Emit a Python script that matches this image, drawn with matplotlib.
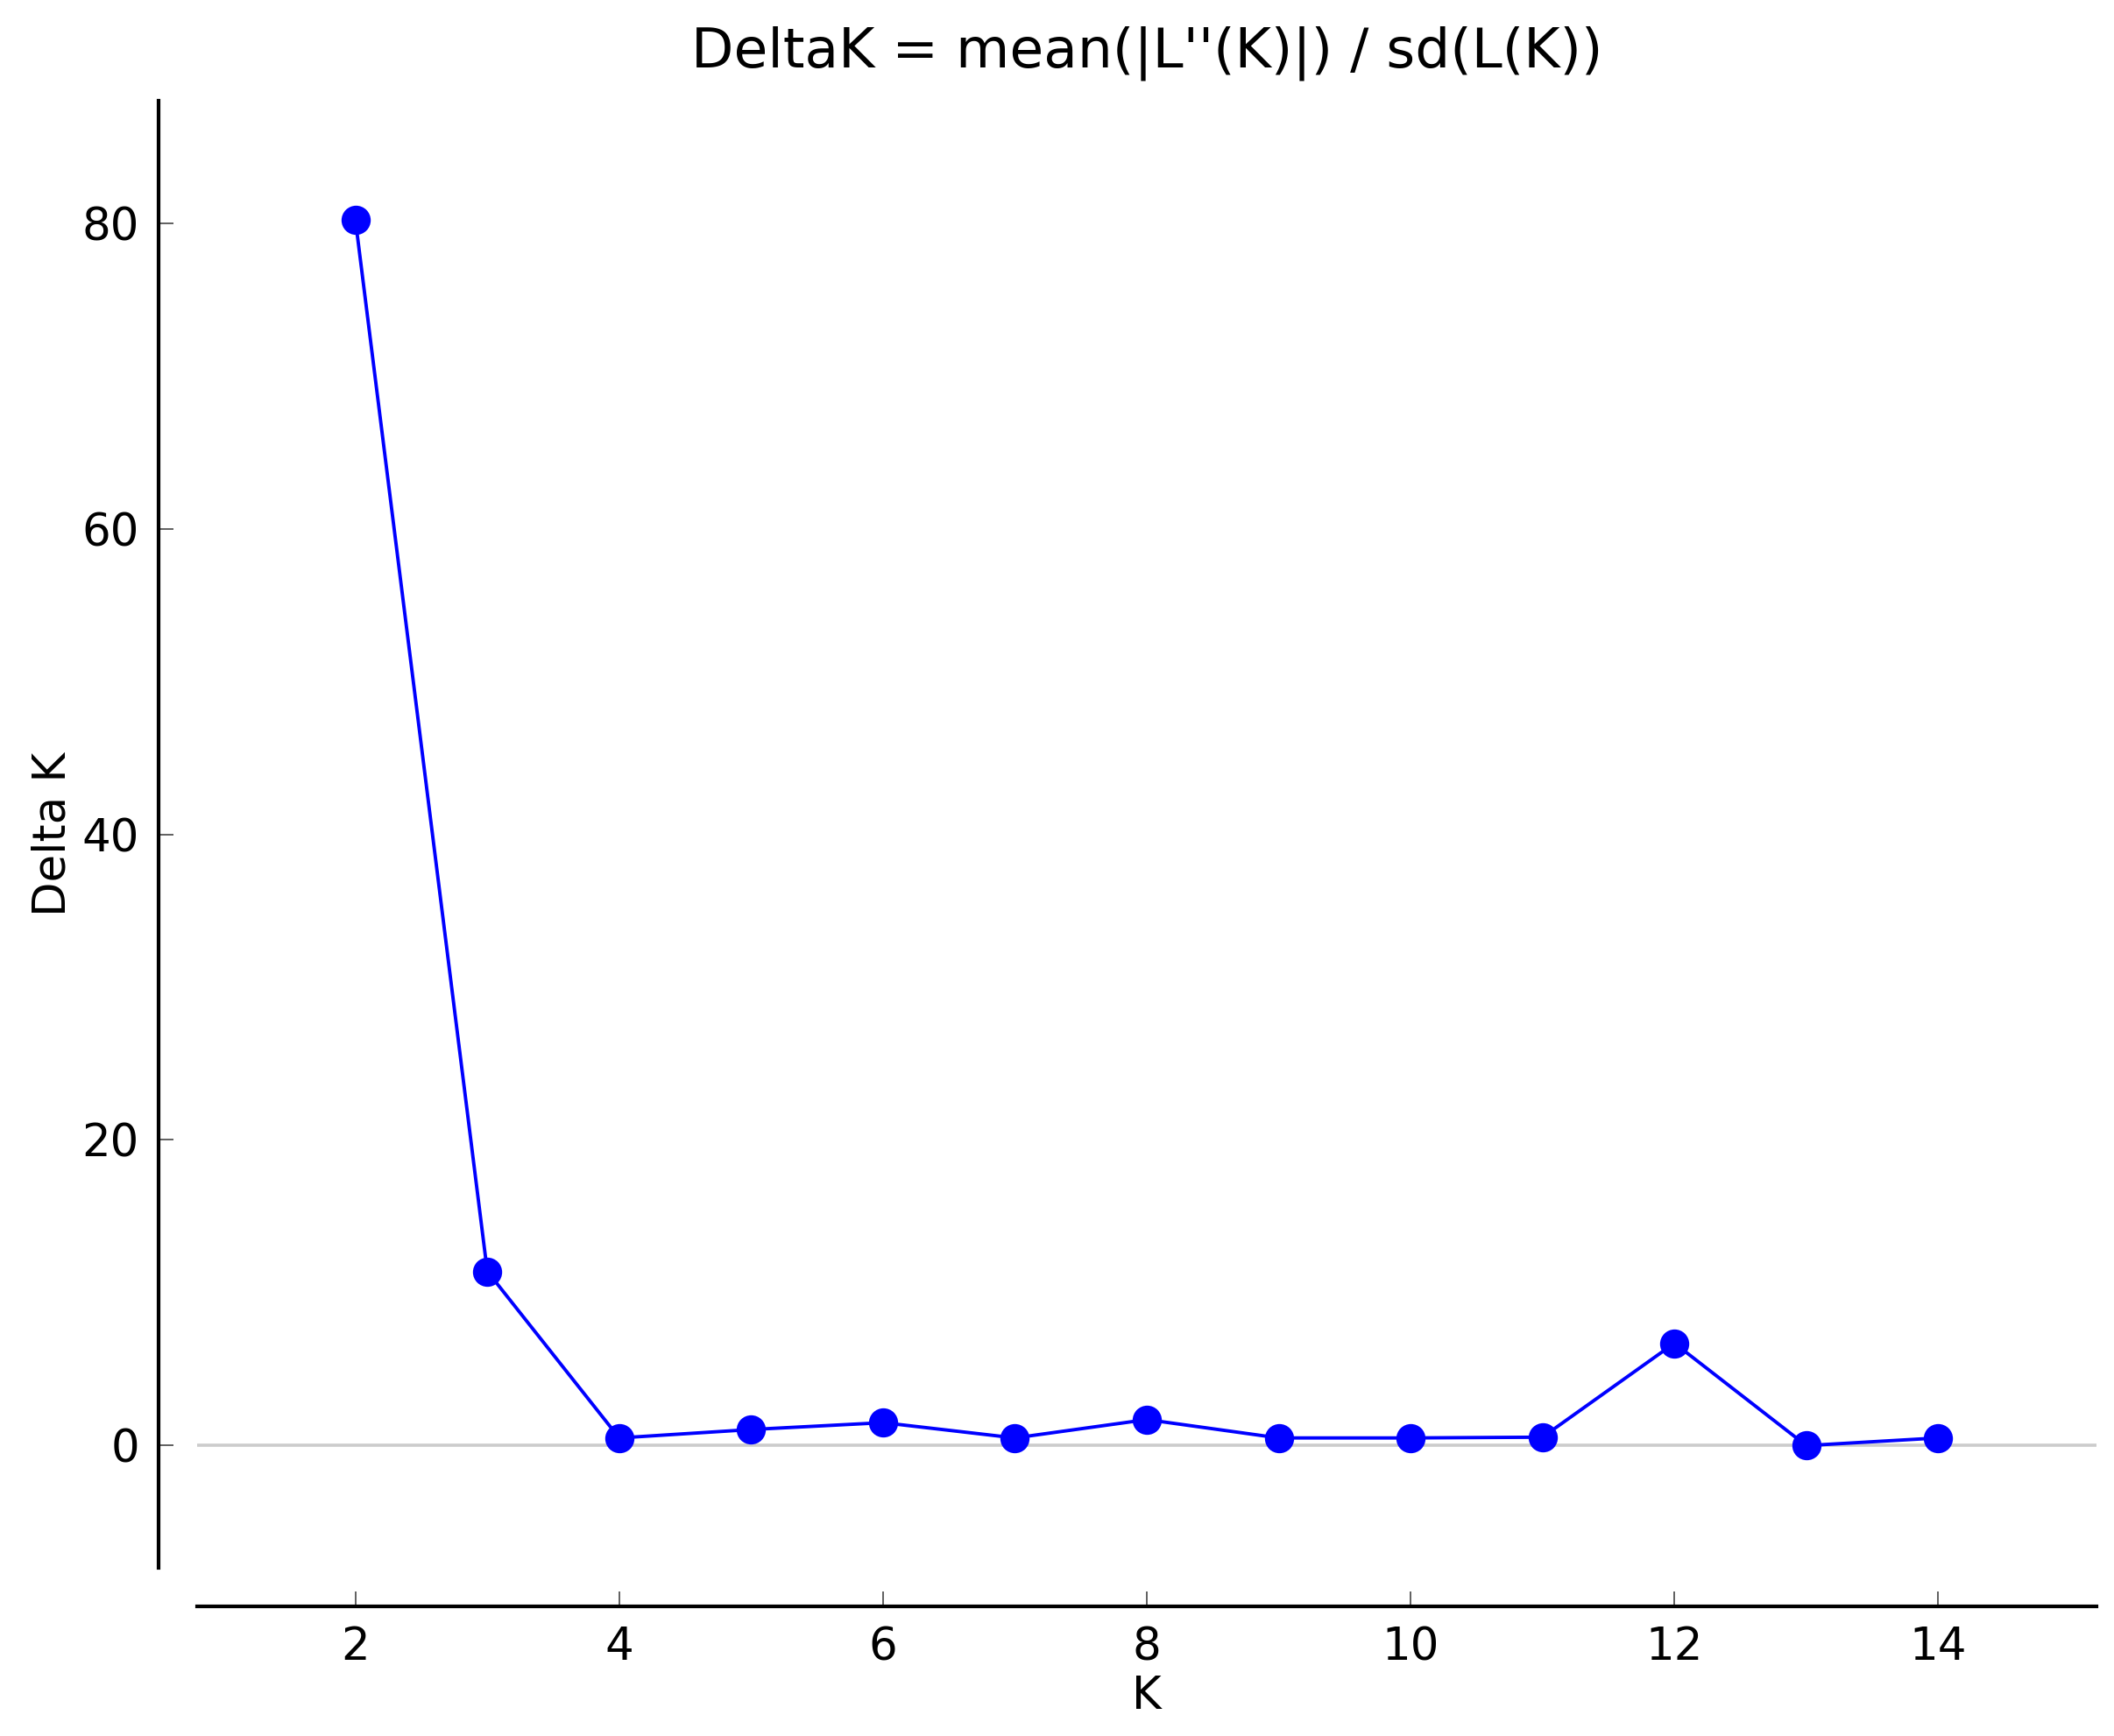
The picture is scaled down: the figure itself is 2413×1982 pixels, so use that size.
import matplotlib
matplotlib.use("Agg")
import matplotlib.pyplot as plt

k_values = [2, 3, 4, 5, 6, 7, 8, 9, 10, 11, 12, 13, 14]
delta_k = [80.2, 11.4, 0.5, 1.05, 1.5, 0.5, 1.7, 0.5, 0.5, 0.55, 6.7, 0.0, 0.5]
x_ticks = [2, 4, 6, 8, 10, 12, 14]
y_ticks = [0, 20, 40, 60, 80]

plt.rcParams["font.family"] = ["DejaVu Sans"]

dpi = 200
fig = plt.figure(figsize=(2413 / dpi, 1982 / dpi), dpi=dpi)
ax = fig.add_axes([225 / 2413, 1 - 1790 / 1982, (2393 - 225) / 2413, (1790 - 115) / 1982])

ax.axhline(0, color="#cccccc", linewidth=1.3, zorder=1)
ax.plot(k_values, delta_k, color="blue", marker="o", markersize=11,
        linewidth=1.4, markeredgecolor="blue", zorder=3)

ax.set_xlim(0.8, 15.2)
ax.set_ylim(-8, 88)
ax.set_xticks(x_ticks)
ax.set_yticks(y_ticks)

for side in ["top", "right"]:
    ax.spines[side].set_visible(False)
for side in ["left", "bottom"]:
    ax.spines[side].set_position(("outward", 15.8))
    ax.spines[side].set_linewidth(1.5)

ax.tick_params(direction="in", length=6, width=0.6, color="#444444",
               labelsize=18.5, pad=8)

ax.set_title("DeltaK = mean(|L''(K)|) / sd(L(K))", fontsize=22.7, pad=14)
ax.set_xlabel("K", fontsize=18.5, labelpad=2)
ax.set_ylabel("Delta K", fontsize=18.5, labelpad=3)

fig.savefig("out.png", dpi=dpi)
